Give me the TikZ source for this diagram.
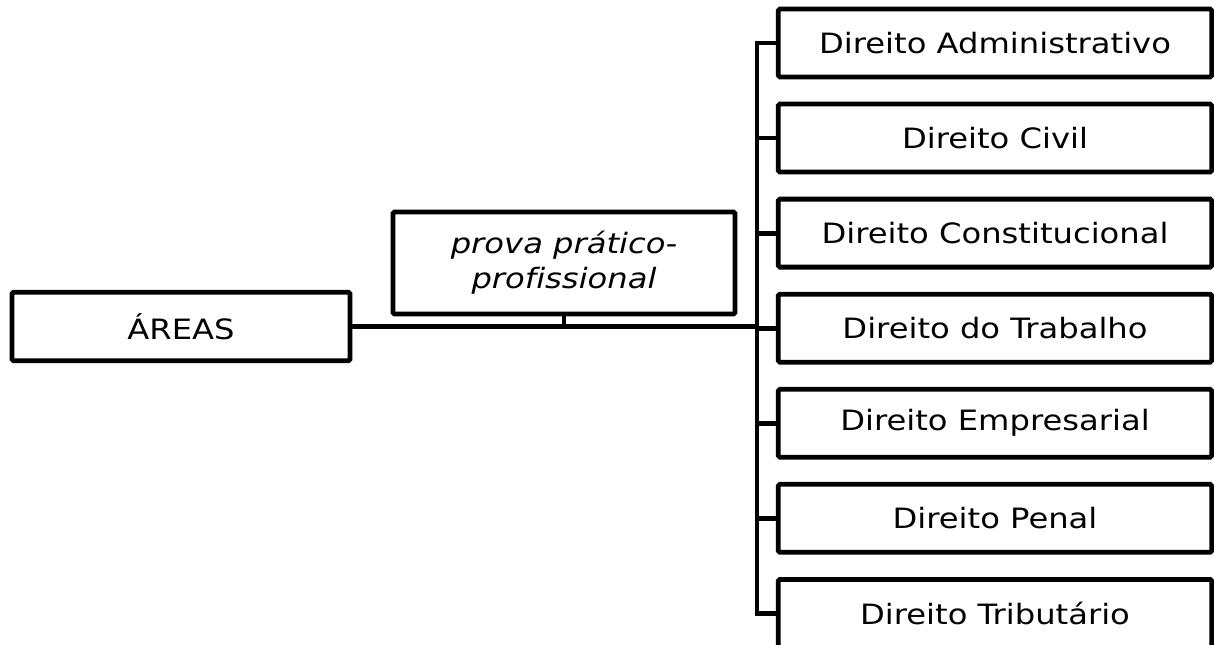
\documentclass[tikz,border=0pt]{standalone}
\usepackage{fontspec}
\setmainfont{DejaVu Sans}[FakeStretch=1.15,Ligatures=NoCommon]
\usetikzlibrary{positioning}

\tikzset{
    caixa/.style={draw, line width=3.6pt, rounded corners=1.2pt, align=center,
        inner sep=0pt, font=\fontsize{21}{26}\selectfont},
    ramo/.style={caixa, minimum width=325pt, minimum height=51pt},
    lijn/.style={line width=3.6pt}
}

\begin{document}
\begin{tikzpicture}[x=0.75pt,y=-0.75pt]
    % kader
    \useasboundingbox (0,0) rectangle (1214,645);
    % hoofdvakken
    \node[caixa, minimum width=253.5pt, minimum height=51.5pt] (areas) at (181,326.5) {ÁREAS};
    \node[caixa, minimum width=256.5pt, minimum height=76.5pt, font=\fontsize{21}{26}\selectfont\itshape] (prova) at (564,263) {prova prático-\\profissional};
    % rechterkolom
    \node[ramo] (adm) at (995,43) {Direito Administrativo};
    \node[ramo, below=16.7pt of adm] (civ) {Direito Civil};
    \node[ramo, below=16.7pt of civ] (con) {Direito Constitucional};
    \node[ramo, below=16.7pt of con] (trab) {Direito do Trabalho};
    \node[ramo, below=16.7pt of trab] (emp) {Direito Empresarial};
    \node[ramo, below=16.7pt of emp] (pen) {Direito Penal};
    \node[ramo, below=16.7pt of pen] (trib) {Direito Tributário};
    % verbindingen
    \coordinate (bar) at (757,0);
    \draw[lijn] (adm.west) -- (bar |- adm.west) -- (bar |- trib.west) -- (trib.west);
    \foreach \n in {civ,con,trab,emp,pen}
        \draw[lijn] (bar |- \n.west) -- (\n.west);
    \draw[lijn] (areas.east) -- (bar |- areas.east);
    \draw[line width=2.4pt] (prova.south) -- (prova.south |- areas.east);
\end{tikzpicture}
\end{document}
